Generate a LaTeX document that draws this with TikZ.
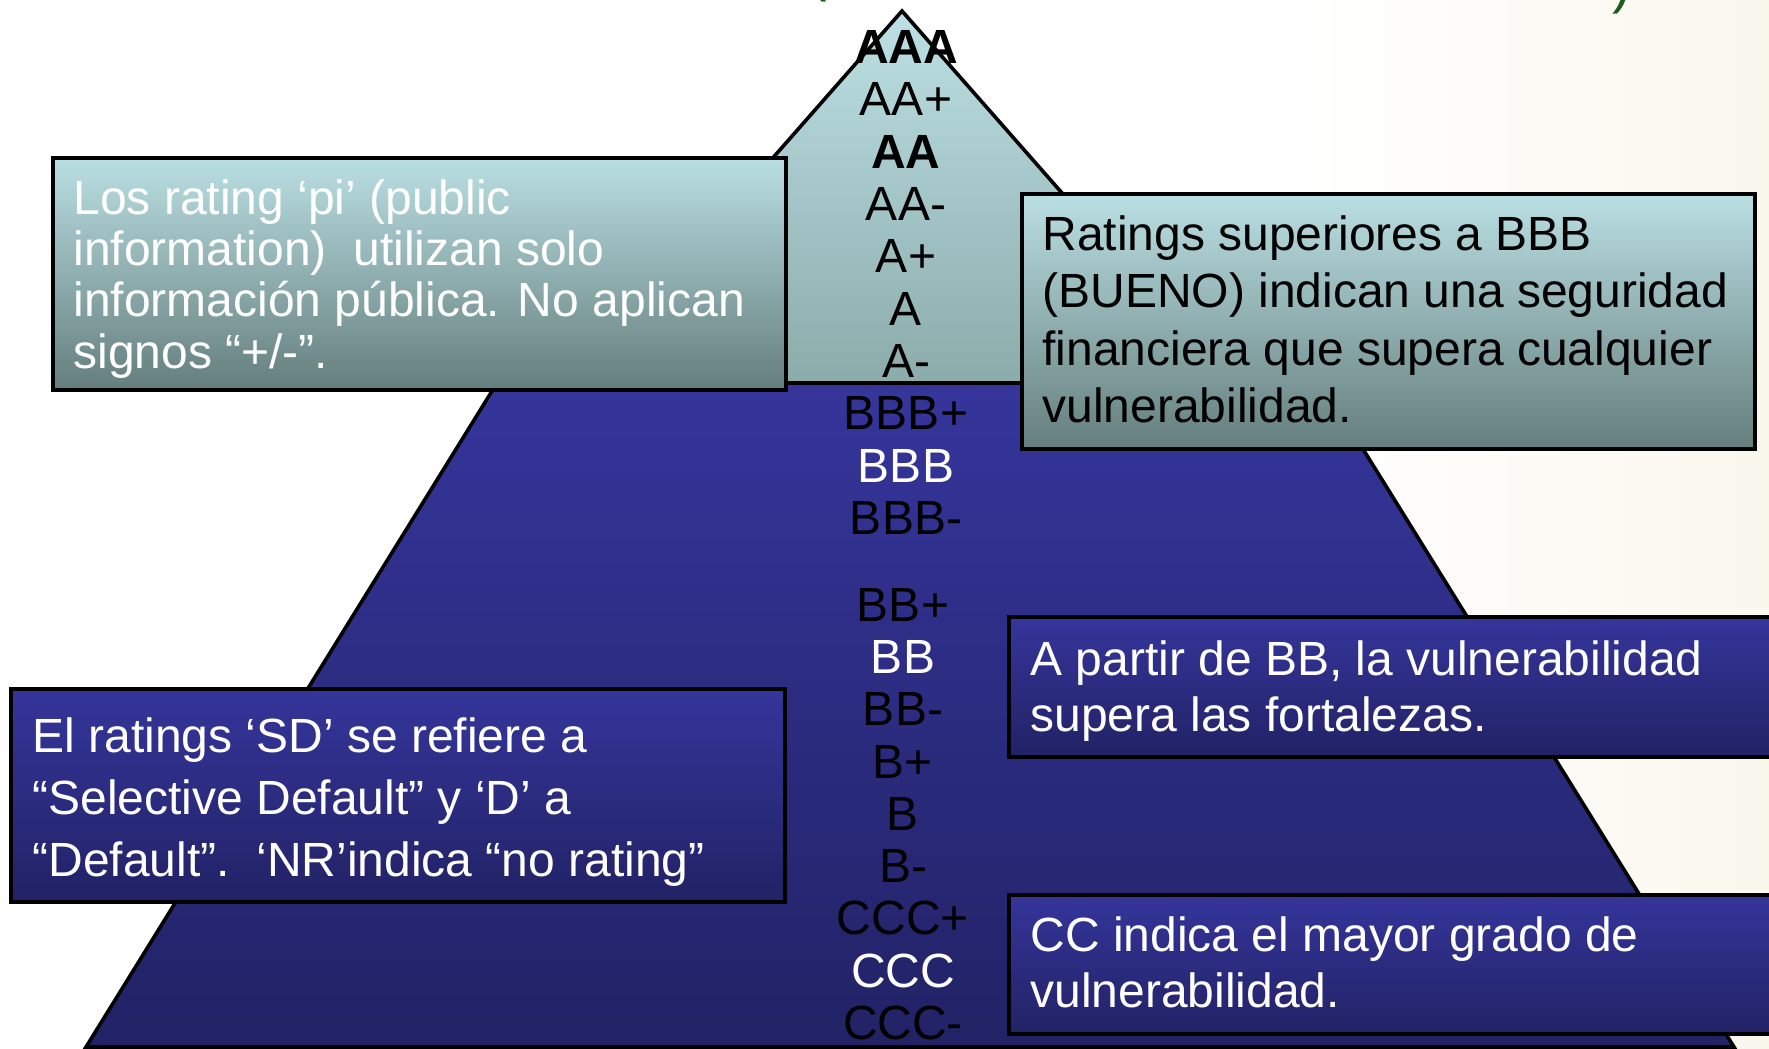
\documentclass[tikz,border=0pt]{standalone}
\usepackage{fontspec}
\setmainfont{Liberation Sans}
\usetikzlibrary{positioning}
\usepackage{xcolor}
\definecolor{capTop}{HTML}{BCE0E4}
\definecolor{capBottom}{HTML}{8CABAB}
\definecolor{tealTop}{HTML}{BADFE3}
\definecolor{tealBottom}{HTML}{657E7D}
\definecolor{navyTop}{HTML}{35359B}
\definecolor{navyBottom}{HTML}{222266}
\definecolor{cream}{HTML}{FAF7ED}
\definecolor{titleGreen}{HTML}{1E5C1E}

\begin{document}
\begin{tikzpicture}[x=0.5pt, y=-0.5pt,
    outline/.style={draw=black, line width=1.8pt, line join=miter},
    lightbox/.style={outline, top color=tealTop, bottom color=tealBottom, anchor=north west, inner sep=0pt},
    darkbox/.style={outline, top color=navyTop, bottom color=navyBottom, anchor=north west, inner sep=0pt},
    boxtext/.style={anchor=base west, inner sep=0pt},
    rating/.style={anchor=base, inner sep=0pt, font=\fontsize{24}{26}\selectfont}]
  \useasboundingbox (0,0) rectangle (1769,1049);
  \shade[left color=white, right color=cream] (1300,0) rectangle (1769,1049);

  % title fragments cut off at the top
  \node[anchor=base, inner sep=0pt, text=titleGreen, font=\fontsize{28}{30}\selectfont] (lpar) at (818,-10) {(};
  \node[anchor=base, inner sep=0pt, text=titleGreen, font=\fontsize{28}{30}\selectfont] (rpar) at (1622,3) {)};

  % pyramid
  \path[outline, top color=navyTop, bottom color=navyBottom]
    (497,383) -- (1322,383) -- (1734,1047) -- (86,1047) -- cycle;
  \path[outline, top color=capTop, bottom color=capBottom]
    (902,11) -- (1229,383) -- (575,383) -- cycle;

  % ratings
  \node[rating] (aaa) at (906,63) {\textbf{AAA}};
  \node[rating] (aap) at (906,115) {AA+};
  \node[rating] (aa) at (906,168) {\textbf{AA}};
  \node[rating] (aam) at (906,220) {AA-};
  \node[rating] (ap) at (906,272) {A+};
  \node[rating] (a) at (906,325) {A};
  \node[rating] (am) at (906,377) {A-};
  \node[rating] (bbbp) at (906,429) {BBB+};
  \node[rating, text=white] (bbb) at (906,482) {BBB};
  \node[rating] (bbbm) at (906,534) {BBB-};
  \node[rating] (bbp) at (903,621) {BB+};
  \node[rating, text=white] (bb) at (903,673) {BB};
  \node[rating] (bbm) at (903,725) {BB-};
  \node[rating] (bp) at (903,778) {B+};
  \node[rating] (b) at (903,830) {B};
  \node[rating] (bm) at (903,882) {B-};
  \node[rating] (cccp) at (903,934) {CCC+};
  \node[rating, text=white] (ccc) at (903,987) {CCC};
  \node[rating] (cccm) at (903,1039) {CCC-};

  % notes
  \node[lightbox, minimum width=366.5pt, minimum height=116pt] (pibox) at (51,156) {};
  \node[boxtext, text=white] (pitext) at (73,214) {\parbox[t]{400pt}{\fontsize{24}{25.7}\selectfont
    Los rating ‘pi’ (public\\ information)\ \ utilizan solo\\ información pública. No aplican\\ signos “+/-”.}};

  \node[lightbox, minimum width=366.5pt, minimum height=127.5pt] (bbbbox) at (1020,192) {};
  \node[boxtext] (bbbtext) at (1042,250) {\parbox[t]{400pt}{\fontsize{24}{28.8}\selectfont
    Ratings superiores a BBB\\ (BUENO) indican una seguridad\\ financiera que supera cualquier\\ vulnerabilidad.}};

  \node[darkbox, minimum width=391.5pt, minimum height=70pt] (bbbox) at (1007,615) {};
  \node[boxtext, text=white] (bbtext) at (1030,675) {\parbox[t]{400pt}{\fontsize{24}{28}\selectfont
    A partir de BB, la vulnerabilidad\\ supera las fortalezas.}};

  \node[darkbox, minimum width=391.5pt, minimum height=69.5pt] (ccbox) at (1007,893) {};
  \node[boxtext, text=white] (cctext) at (1030,951) {\parbox[t]{400pt}{\fontsize{24}{28}\selectfont
    CC indica el mayor grado de\\ vulnerabilidad.}};

  \node[darkbox, minimum width=387pt, minimum height=106.5pt] (sdbox) at (9,687) {};
  \node[boxtext, text=white] (sdtext) at (32,752) {\parbox[t]{400pt}{\fontsize{24}{31}\selectfont
    El ratings ‘SD’ se refiere a\\ “Selective Default” y ‘D’ a\\ “Default”.\ \ ‘NR’indica “no rating”}};
\end{tikzpicture}
\end{document}
